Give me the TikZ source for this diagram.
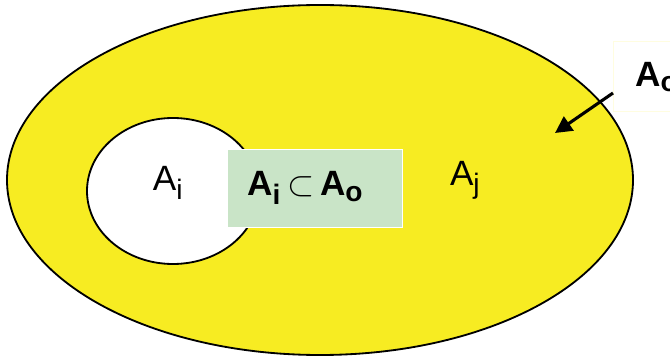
\documentclass[tikz,border=0pt]{standalone}
\usepackage{fontspec}
\setmainfont{Liberation Sans}
\usetikzlibrary{arrows.meta}
\definecolor{setyellow}{RGB}{247,236,34}
\definecolor{boxgreen}{RGB}{201,228,199}
\newcommand{\setname}[2]{A\textsubscript{\fontsize{20}{24}\selectfont #2}}
\tikzset{
	lbl/.style={font=\fontsize{25}{30}\selectfont},
	blbl/.style={font=\fontsize{25}{30}\selectfont\bfseries},
}
\begin{document}
\begin{tikzpicture}[scale=1.0]
	\useasboundingbox (0,0) rectangle (16.75,8.95);
	% outer set and the hole cut out of it
	\draw[line width=1.3pt, fill=setyellow] (8.0,4.45) ellipse (7.825 and 4.375);
	\draw[line width=1.3pt, fill=white] (4.325,4.175) ellipse (2.15 and 1.825);
	\node[lbl] (ai) at (4.2,4.38) {\setname{A}{i}};
	\node[lbl] (aj) at (11.63,4.45) {\setname{A}{j}};
	\node[blbl, draw=white, fill=boxgreen, minimum height=1.95cm, text width=3.375cm, inner xsep=0.5cm, align=left, anchor=west] (incl) at (5.675,4.25) {\raisebox{-0.1cm}{\setname{A}{i}\,$\subset$\,\setname{A}{o}}};
	\node[blbl, draw=yellow!12, fill=white, anchor=south west, minimum height=1.75cm, text width=2.3cm, inner xsep=0.55cm, align=left] (ao) at (15.325,6.15) {\setname{A}{o}};
	\coordinate (tip) at (13.875,5.625);
	\draw[line width=2.2pt, -{Triangle[length=0.42cm,width=0.42cm]}] ([yshift=0.475cm]ao.south west) -- (tip);
\end{tikzpicture}
\end{document}
